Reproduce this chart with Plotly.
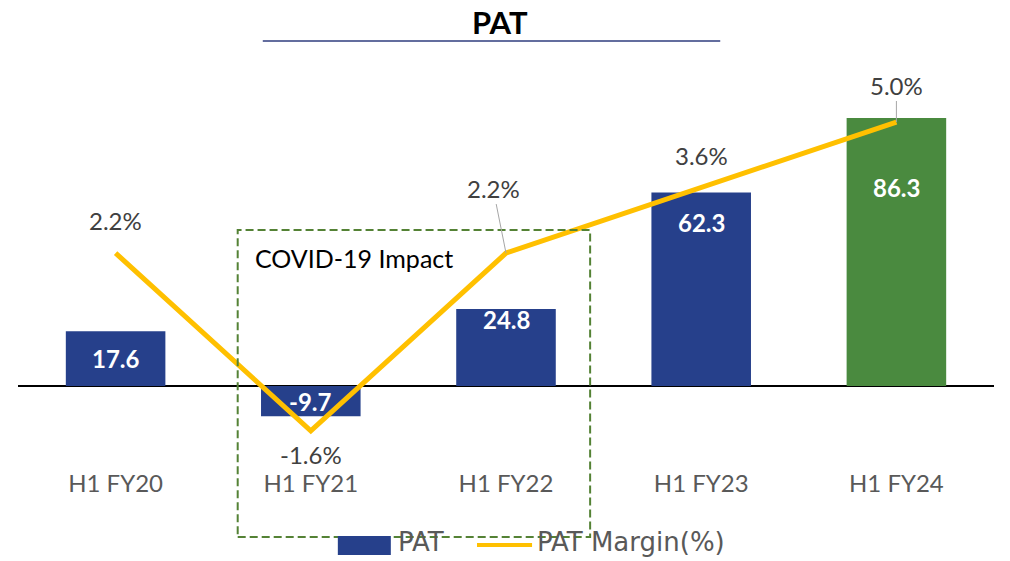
import plotly.graph_objects as go

categories = ["H1 FY20", "H1 FY21", "H1 FY22", "H1 FY23", "H1 FY24"]
pat_values = [17.6, -9.7, 24.8, 62.3, 86.3]
margin_values = [2.2, -1.6, 2.2, 3.6, 5.0]
pat_labels = ["17.6", "-9.7", "24.8", "62.3", "86.3"]
margin_labels = ["2.2%", "-1.6%", "2.2%", "3.6%", "5.0%"]

BLUE = "#26408B"
GREEN = "#4A8A3F"
GOLD = "#FFC000"
FONT = "Lato"
LEGEND_FONT = "DejaVu Sans"

bar_colors = [BLUE, BLUE, BLUE, BLUE, GREEN]

fig = go.Figure()
fig.add_trace(go.Bar(
    x=categories, y=pat_values, marker=dict(color=bar_colors, line=dict(width=0)),
    width=0.51, name="PAT", showlegend=False, hoverinfo="skip",
))
fig.add_trace(go.Scatter(
    x=categories, y=margin_values, yaxis="y2", mode="lines",
    line=dict(color=GOLD, width=5), name="PAT Margin(%)", showlegend=False,
    hoverinfo="skip",
))

# Bar value labels
bar_shift = [-27, 15, -11, -30, -70]
for c, v, t, s in zip(categories, pat_values, pat_labels, bar_shift):
    fig.add_annotation(x=c, y=v, text="<b>%s</b>" % t, showarrow=False,
                       yshift=s, font=dict(family=FONT, size=24, color="white"),
                       xref="x", yref="y")

# Margin labels
m_shift = [33, -24, None, 32, None]
for i, (c, v, t) in enumerate(zip(categories, margin_values, margin_labels)):
    if i == 2:
        fig.add_annotation(x=c, y=v, text=t, showarrow=True, arrowhead=0,
                           arrowwidth=1, arrowcolor="#A6A6A6", ax=-13, ay=-65,
                           font=dict(family=FONT, size=24, color="#404040"),
                           xref="x", yref="y2")
    elif i == 4:
        fig.add_annotation(x=c, y=v, text=t, showarrow=True, arrowhead=0,
                           arrowwidth=1, arrowcolor="#A6A6A6", ax=0, ay=-37,
                           font=dict(family=FONT, size=24, color="#404040"),
                           xref="x", yref="y2")
    else:
        fig.add_annotation(x=c, y=v, text=t, showarrow=False, yshift=m_shift[i],
                           font=dict(family=FONT, size=24, color="#404040"),
                           xref="x", yref="y2")

# Title and underline
fig.add_annotation(x=0.4938, y=1.0938, xref="paper", yref="paper", text="<b>PAT</b>",
                   showarrow=False, font=dict(family=FONT, size=31, color="black"),
                   xanchor="center", yanchor="middle")
fig.add_shape(type="line", xref="paper", yref="paper", x0=0.2508, x1=0.7195,
              y0=1.0469, y1=1.0469, line=dict(color="#2F3C7E", width=1.5))

# COVID box
fig.add_shape(type="rect", xref="paper", yref="paper", x0=0.2251, x1=0.5862,
              y0=-0.1778, y1=0.5802, line=dict(color="#548235", width=2, dash="8px,4px"))
fig.add_annotation(x=0.2405, y=0.511, xref="paper", yref="paper", text="COVID-19 Impact",
                   showarrow=False, xanchor="left", yanchor="middle",
                   font=dict(family=FONT, size=25, color="black"))

# Custom legend
fig.add_shape(type="rect", xref="paper", yref="paper", x0=0.3277, x1=0.382,
              y0=-0.2222, y1=-0.1753, line=dict(width=0), fillcolor=BLUE)
fig.add_annotation(x=0.3872, y=-0.19, xref="paper", yref="paper", text="PAT",
                   showarrow=False, xanchor="left", yanchor="middle",
                   font=dict(family=LEGEND_FONT, size=26, color="#595959"))
fig.add_shape(type="line", xref="paper", yref="paper", x0=0.4703, x1=0.5267,
              y0=-0.1975, y1=-0.1975, line=dict(color=GOLD, width=4))
fig.add_annotation(x=0.5298, y=-0.19, xref="paper", yref="paper", text="PAT Margin(%)",
                   showarrow=False, xanchor="left", yanchor="middle",
                   font=dict(family=LEGEND_FONT, size=26, color="#595959"))

fig.update_layout(
    width=1010, height=561,
    margin=dict(l=18, r=16, t=60, b=96),
    plot_bgcolor="white", paper_bgcolor="white",
    showlegend=False,
    xaxis=dict(type="category", showgrid=False, showline=False, ticks="",
               ticklabelstandoff=2,
               tickfont=dict(family=FONT, size=24, color="#595959")),
    yaxis=dict(range=[-25.43, 104.96], showgrid=False, showticklabels=False,
               zeroline=True, zerolinecolor="black", zerolinewidth=1.5),
    yaxis2=dict(range=[-2.329, 6.325], overlaying="y", side="right",
                showgrid=False, showticklabels=False, zeroline=False),
)

fig.write_html("out.html", config={"displayModeBar": False},
               post_script="document.body.style.margin='0';document.body.style.overflow='hidden';")
